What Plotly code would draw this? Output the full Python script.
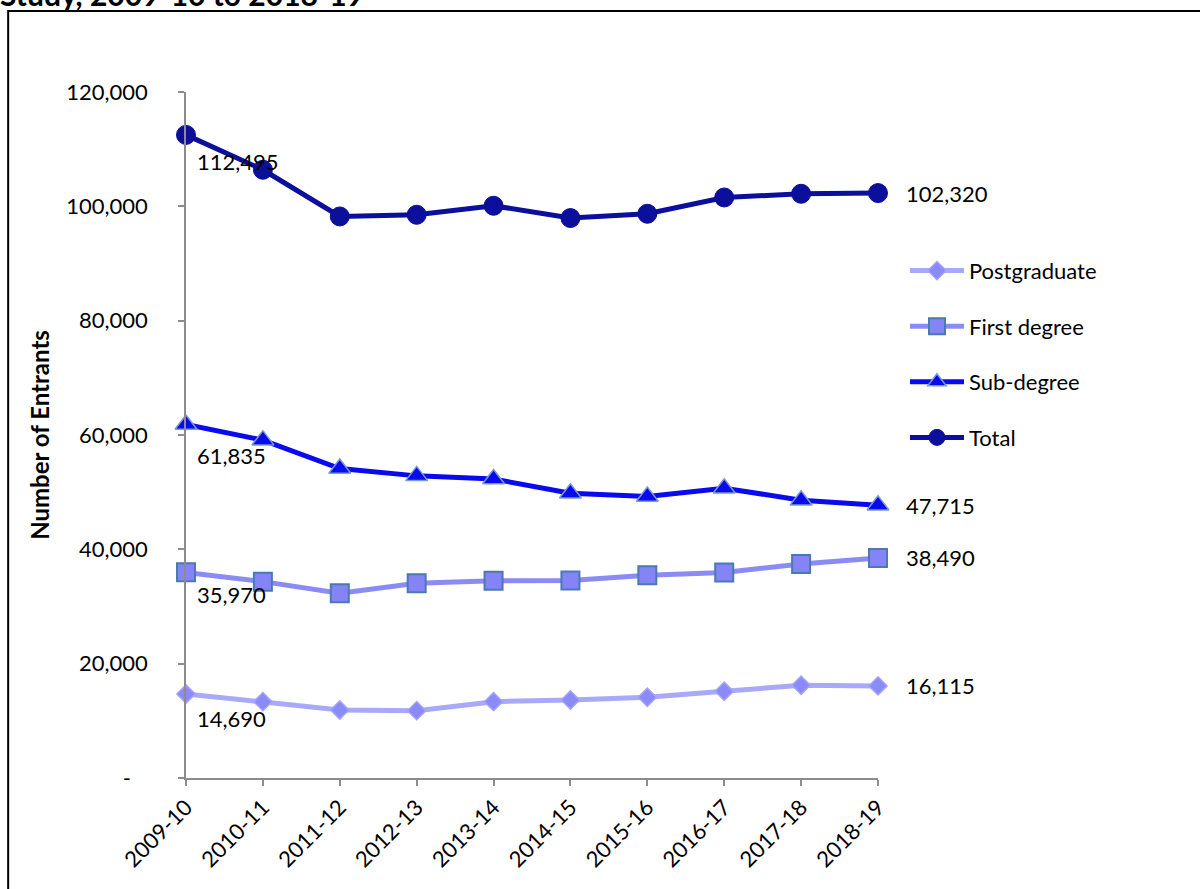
import plotly.graph_objects as go

# Academic years on the category axis
years = ["2009-10", "2010-11", "2011-12", "2012-13", "2013-14",
         "2014-15", "2015-16", "2016-17", "2017-18", "2018-19"]

# Entrants by level of study
postgraduate = [14690, 13360, 11900, 11780, 13350, 13650, 14120, 15170, 16220, 16115]
first_degree = [35970, 34350, 32320, 34070, 34500, 34530, 35470, 35930, 37450, 38490]
sub_degree = [61835, 59100, 54130, 52850, 52300, 49820, 49230, 50700, 48600, 47715]
total = [112495, 106400, 98230, 98525, 100100, 97950, 98700, 101550, 102200, 102320]

y_ticks = [0, 20000, 40000, 60000, 80000, 100000, 120000]

FONT = "Lato"

series = [
    dict(name="Postgraduate", y=postgraduate, line="#A9A9F9", fill="#8A8AF8",
         edge="#A3A3F7", symbol="diamond", size=14, ew=1.5, below=-24),
    dict(name="First degree", y=first_degree, line="#8B8BF5", fill="#8484F7",
         edge="#4B79B4", symbol="square", size=18, ew=2, below=-22),
    dict(name="Sub-degree", y=sub_degree, line="#0A0AEE", fill="#0A0AEE",
         edge="#7A9ACC", symbol="triangle-up", size=19, ew=1.5, below=-31),
    dict(name="Total", y=total, line="#0B0F9C", fill="#0B0F9C",
         edge="#0B0F9C", symbol="circle", size=19, ew=1, below=-27),
]

fig = go.Figure()
annotations = []
for s in series:
    fig.add_trace(go.Scatter(
        x=years, y=s["y"], name=s["name"], mode="lines+markers",
        legendgroup=s["name"],
        line=dict(color=s["line"], width=5),
        marker=dict(symbol=s["symbol"], size=s["size"], color=s["fill"],
                    line=dict(color=s["edge"], width=s["ew"])),
        cliponaxis=False,
    ))
    # value labels on the first and last year
    annotations.append(dict(
        x=years[0], y=s["y"][0], text=f"{s['y'][0]:,}", showarrow=False,
        xanchor="left", yanchor="middle", xshift=9, yshift=s["below"],
        font=dict(family=FONT, size=22, color="black"),
    ))
    annotations.append(dict(
        x=years[-1], y=s["y"][-1], text=f"{s['y'][-1]:,}", showarrow=False,
        xanchor="left", yanchor="middle", xshift=26,
        font=dict(family=FONT, size=22, color="black"),
    ))

# heading line at the very top of the figure
annotations.append(dict(
    xref="paper", yref="paper", x=-0.272, y=1.1135, xanchor="left", yanchor="bottom",
    text="<b>Study, 2009-10 to 2018-19</b>", showarrow=False,
    font=dict(family=FONT, size=30, color="black"),
))

fig.update_layout(
    width=1200, height=889,
    margin=dict(l=186, r=322, t=92, b=111),
    paper_bgcolor="white", plot_bgcolor="white",
    font=dict(family=FONT, size=22, color="black"),
    showlegend=True,
    legend=dict(
        x=1.039, y=0.77, xanchor="left", yanchor="top",
        traceorder="grouped", tracegroupgap=24,
        font=dict(family=FONT, size=22, color="black"),
        bgcolor="rgba(0,0,0,0)", itemwidth=54,
    ),
    annotations=annotations,
    shapes=[dict(
        type="rect", xref="paper", yref="paper",
        x0=-0.257, x1=2.0, y0=-1.0, y1=1.118,
        line=dict(color="black", width=2), fillcolor="rgba(0,0,0,0)", layer="below",
    )],
)

fig.update_xaxes(
    type="category", range=[0, len(years) - 1],
    showline=True, linecolor="#8C8C8C", linewidth=1.5,
    ticks="outside", ticklen=6, tickcolor="#8C8C8C", tickwidth=1.5,
    tickangle=-45, showgrid=False, zeroline=False,
    tickfont=dict(family=FONT, size=22, color="black"),
)

fig.update_yaxes(
    range=[0, 120000],
    tickvals=y_ticks,
    ticktext=[f"{v:,}" if v else "-\u00a0\u00a0\u00a0" for v in y_ticks],
    showline=True, linecolor="#8C8C8C", linewidth=1.5,
    ticks="outside", ticklen=6, tickcolor="#8C8C8C", tickwidth=1.5,
    ticklabelstandoff=26,
    showgrid=False, zeroline=False,
    tickfont=dict(family=FONT, size=22, color="black"),
    title=dict(text="<b>Number of Entrants</b>", standoff=10,
               font=dict(family=FONT, size=24, color="black")),
)

fig.write_html("out.html")
